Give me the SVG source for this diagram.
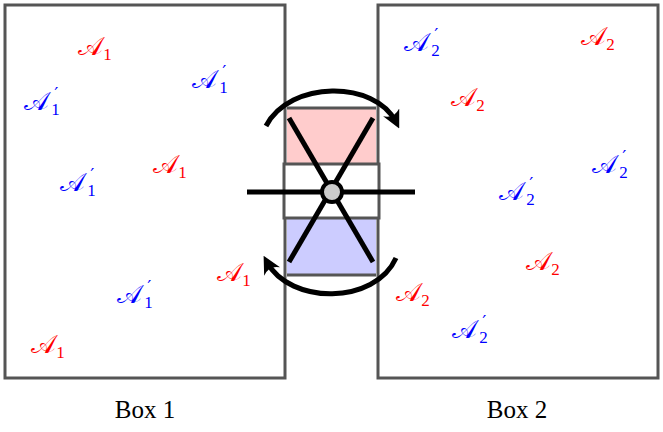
<svg xmlns="http://www.w3.org/2000/svg" width="663" height="432" viewBox="0 0 663 432">
<style>
.box{fill:none;stroke:#555;stroke-width:3}
.l{fill:none;stroke:#000;stroke-width:5}
.a{font-family:"DejaVu Serif","Noto Sans",serif;font-size:26px;text-anchor:middle}
.r{fill:#f00}.b{fill:#00f}
.s{font-size:17px;font-family:"Liberation Serif",serif}
.p{font-size:18px;font-family:"DejaVu Sans",sans-serif}
.t{font-family:"Liberation Serif",serif;font-size:25px;text-anchor:middle}
</style>
<defs><marker id="h" viewBox="0 0 10 10" refX="6" refY="5" markerWidth="3.6" markerHeight="3.6" orient="auto"><path d="M0,0 Q4,5 0,10 L10,5 Z" fill="#000"/></marker></defs>
<g id="box1"><rect class="box" x="5" y="5" width="280" height="373"/></g>
<g id="box2"><rect class="box" x="378" y="5" width="280" height="373"/></g>
<g id="valve">
<rect x="287" y="108" width="89" height="55" fill="#ffcccc"/>
<rect x="287" y="218" width="89" height="57" fill="#ccccff"/>
<line x1="287" y1="108" x2="376" y2="108" stroke="#555" stroke-width="3"/>
<line x1="287" y1="275" x2="376" y2="275" stroke="#555" stroke-width="3"/>
<rect x="284" y="164" width="95" height="54" fill="#fff" stroke="#555" stroke-width="3"/>
</g>
<g id="connectors">
<line class="l" x1="247" y1="192" x2="415" y2="192"/>
<line class="l" x1="289" y1="118" x2="373" y2="262"/>
<line class="l" x1="373" y1="118" x2="289" y2="262"/>
<path class="l" d="M266,126 C290,80 375,80 396,122" marker-end="url(#h)"/>
<path class="l" d="M396,258 C375,305 290,305 267,262" marker-end="url(#h)"/>
</g>
<g id="hub"><circle cx="332" cy="192" r="10" fill="#ccc" stroke="#000" stroke-width="4"/></g>
<g id="labels">
<text class="a r" x="95" y="55">𝒜<tspan class="s" dy="5">1</tspan></text>
<text class="a r" x="170" y="173">𝒜<tspan class="s" dy="5">1</tspan></text>
<text class="a r" x="234" y="281">𝒜<tspan class="s" dy="5">1</tspan></text>
<text class="a r" x="48" y="353">𝒜<tspan class="s" dy="5">1</tspan></text>
<text class="a b" x="42" y="110">𝒜<tspan class="p" dx="5" dy="-10">′</tspan><tspan class="s" dx="-7" dy="15">1</tspan></text>
<text class="a b" x="210" y="88">𝒜<tspan class="p" dx="5" dy="-10">′</tspan><tspan class="s" dx="-7" dy="15">1</tspan></text>
<text class="a b" x="78" y="191">𝒜<tspan class="p" dx="5" dy="-10">′</tspan><tspan class="s" dx="-7" dy="15">1</tspan></text>
<text class="a b" x="135" y="303">𝒜<tspan class="p" dx="5" dy="-10">′</tspan><tspan class="s" dx="-7" dy="15">1</tspan></text>
<text class="a b" x="422" y="51">𝒜<tspan class="p" dx="5" dy="-10">′</tspan><tspan class="s" dx="-7" dy="15">2</tspan></text>
<text class="a b" x="610" y="173">𝒜<tspan class="p" dx="5" dy="-10">′</tspan><tspan class="s" dx="-7" dy="15">2</tspan></text>
<text class="a b" x="517" y="200">𝒜<tspan class="p" dx="5" dy="-10">′</tspan><tspan class="s" dx="-7" dy="15">2</tspan></text>
<text class="a b" x="470" y="338">𝒜<tspan class="p" dx="5" dy="-10">′</tspan><tspan class="s" dx="-7" dy="15">2</tspan></text>
<text class="a r" x="598" y="45">𝒜<tspan class="s" dy="5">2</tspan></text>
<text class="a r" x="468" y="106">𝒜<tspan class="s" dy="5">2</tspan></text>
<text class="a r" x="543" y="270">𝒜<tspan class="s" dy="5">2</tspan></text>
<text class="a r" x="413" y="301">𝒜<tspan class="s" dy="5">2</tspan></text>
<text class="t" x="145" y="418">Box 1</text>
<text class="t" x="517" y="418">Box 2</text>
</g>
</svg>
